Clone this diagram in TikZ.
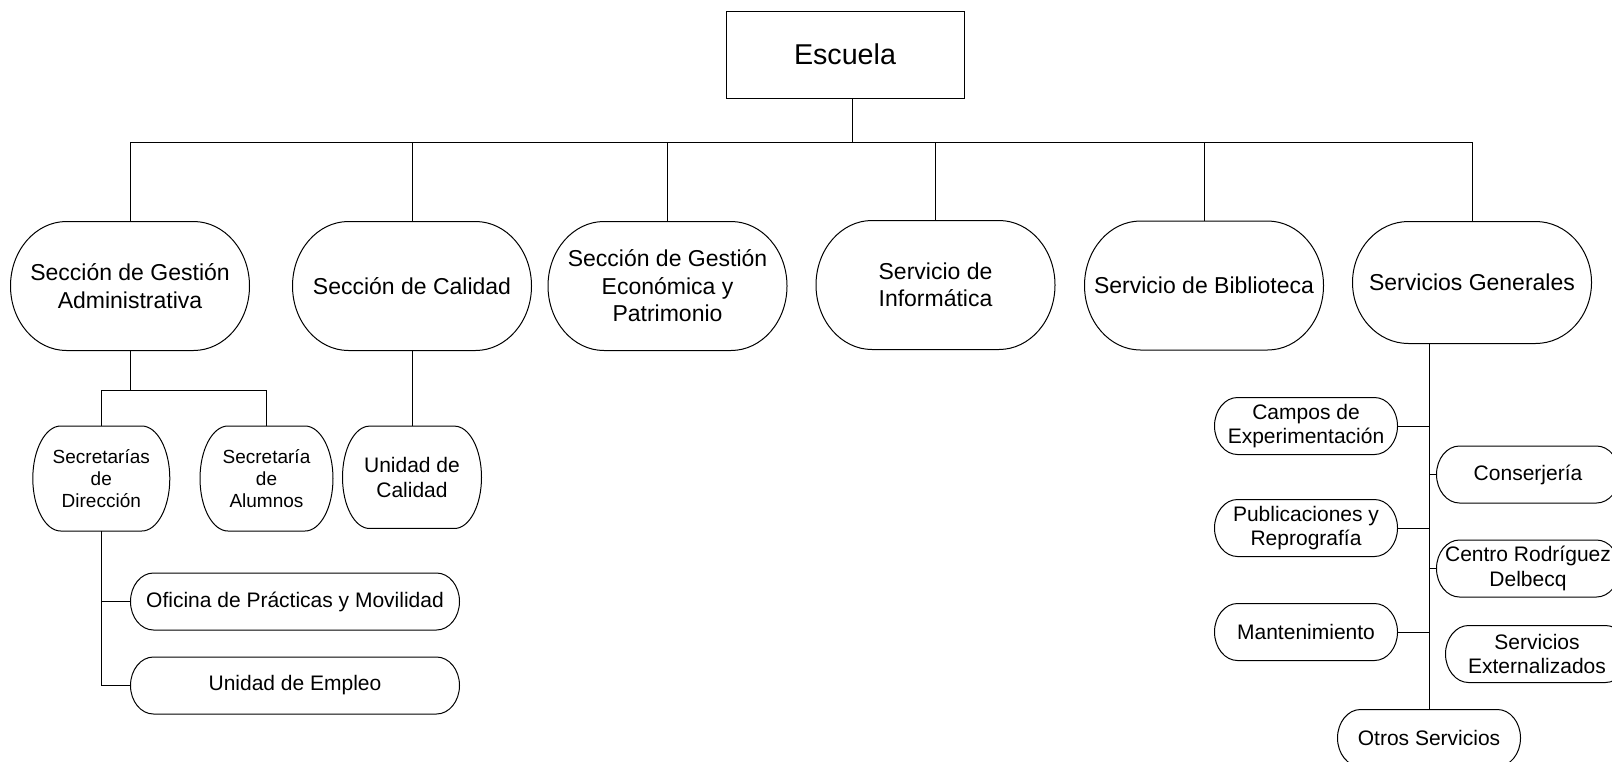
\documentclass[tikz,border=0pt]{standalone}
\usepackage{fontspec}
\setmainfont{Liberation Sans}
\usetikzlibrary{calc}

% outline with elliptic ends round a named node, #2 = width of the ends
\newcommand{\ovalline}[2]{%
  \draw ($(#1.north west)+(#2,0)$) -- ($(#1.north east)-(#2,0)$)
    .. controls ($(#1.north east)-(0.448*#2,0)$) and ($(#1.east)!0.552!(#1.north east)$) .. (#1.east)
    .. controls ($(#1.east)!0.552!(#1.south east)$) and ($(#1.south east)-(0.448*#2,0)$) .. ($(#1.south east)-(#2,0)$)
    -- ($(#1.south west)+(#2,0)$)
    .. controls ($(#1.south west)+(0.448*#2,0)$) and ($(#1.west)!0.552!(#1.south west)$) .. (#1.west)
    .. controls ($(#1.west)!0.552!(#1.north west)$) and ($(#1.north west)+(0.448*#2,0)$) .. ($(#1.north west)+(#2,0)$)
    -- cycle;}

\begin{document}
\begin{tikzpicture}[x=0.75pt,y=0.75pt,yscale=-1,xscale=1,
  line width=0.75pt,
  jefe/.style={draw, minimum width=178.5pt, minimum height=65.25pt, inner sep=0pt, font=\fontsize{21.5}{26}\selectfont},
  seccion/.style={minimum width=178.5pt, minimum height=96pt, inner sep=0pt, align=center, font=\fontsize{17.25}{20.6}\selectfont},
  secretaria/.style={minimum height=78pt, inner sep=0pt, align=center, font=\fontsize{14.25}{16.5}\selectfont},
  unidad/.style={minimum width=136.5pt, minimum height=42pt, inner sep=0pt, align=center, font=\fontsize{15.75}{18.5}\selectfont}]
\useasboundingbox (0,0) rectangle (1612,761);

% Text Node
\node [jefe] (escuela) at (845,54.5) {Escuela};

% Secciones y servicios
\node [seccion] (sga) at (130,286) {Sección de Gestión\\Administrativa};
\node [seccion] (sc) at (412,286) {Sección de Calidad};
\node [seccion] (sgep) at (667.5,286) {Sección de Gestión\\Económica y\\Patrimonio};
\node [seccion] (si) at (935.5,285) {Servicio de\\Informática};
\node [seccion] (sb) at (1204,285.5) {Servicio de Biblioteca};
\node [seccion, minimum height=90.75pt] (sg) at (1472,282.5) {Servicios Generales};

%Straight Lines
\coordinate (bus) at (852,142);
\draw ([xshift=5.25pt]escuela.south) -- ([xshift=5.25pt]escuela.south |- bus);
\draw (sga.north |- bus) -- (sg.north |- bus);
\foreach \s in {sga,sc,sgep,si,sb,sg} \draw (\s.north) -- (\s.north |- bus);

% Text Node
\node [secretaria, minimum width=102pt] (sdir) at (101.3,478.5) {Secretarías\\de\\Dirección};
\node [secretaria, minimum width=99pt] (salum) at (266.5,478.5) {Secretaría\\de\\Alumnos};
\node [secretaria, minimum width=103.5pt, minimum height=76pt, font=\fontsize{15.75}{18.5}\selectfont] (ucal) at (412,477.3) {Unidad de\\Calidad};
\node [unidad, minimum width=246pt] (opm) at (295,601.5) {Oficina de Prácticas y Movilidad};
\node [unidad, minimum width=246pt] (uemp) at (295,685.5) {Unidad de Empleo};

%Straight Lines
\coordinate (sgafork) at (130,390);
\draw (sga.south) -- (sgafork);
\draw (sdir.north) |- (salum.north |- sgafork) -- (salum.north);
\draw (sc.south) -- (ucal.north);
\draw (sdir.south) |- (uemp.west);
\draw (sdir.south |- opm.west) -- (opm.west);

% Text Node
\node [unidad] (campos) at (1306,426) {Campos de\\Experimentación};
\node [unidad] (conserj) at (1528,474.5) {Conserjería};
\node [unidad] (public) at (1306,528) {Publicaciones y\\Reprografía};
\node [unidad] (centro) at (1528,568.5) {Centro Rodríguez\\Delbecq};
\node [unidad] (manten) at (1306,632) {Mantenimiento};
\node [unidad] (sext) at (1537,654) {Servicios\\Externalizados};
\node [unidad] (otros) at (1429,738) {Otros Servicios};

%Straight Lines
\draw (sg.south -| otros.north) -- (otros.north);
\foreach \n in {campos,public,manten} \draw (\n.east) -- (\n.east -| otros.north);
\foreach \n in {conserj,centro} \draw (\n.west) -- (\n.west -| otros.north);

%Shape: oval outlines
\foreach \n/\r in {sga/56,sc/56,sgep/56,si/56,sb/56,sg/56,sdir/28,salum/28,ucal/27,
  opm/23,uemp/23,campos/23,conserj/23,public/23,centro/23,manten/23,sext/23,otros/23}
  \ovalline{\n}{\r};

\end{tikzpicture}
\end{document}
